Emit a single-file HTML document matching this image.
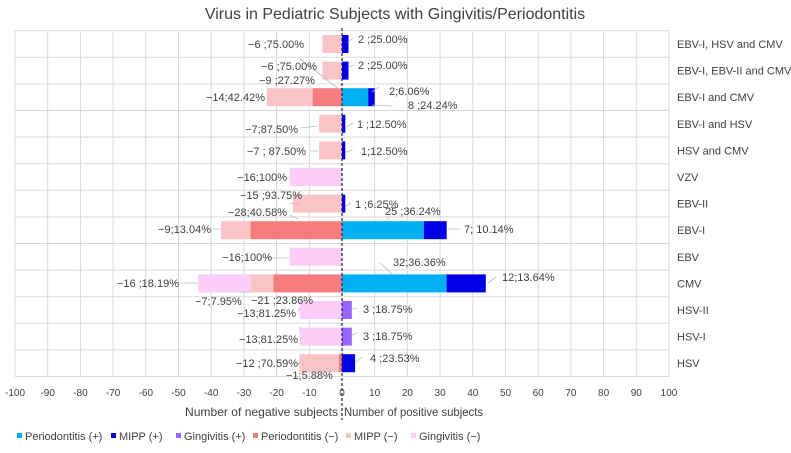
<!DOCTYPE html>
<html><head><meta charset="utf-8"><style>
body{margin:0;background:#fff}
svg text{font-family:"Liberation Sans",sans-serif;fill:#404040}
</style></head><body>
<svg width="791" height="448" xmlns="http://www.w3.org/2000/svg">
<rect width="791" height="448" fill="#fff"/>
<text x="395" y="19" font-size="16" text-anchor="middle" fill="#333">Virus in Pediatric Subjects with Gingivitis/Periodontitis</text>
<g stroke="#d9d9d9" stroke-width="1">
<line x1="15" y1="30.7" x2="669" y2="30.7"/><line x1="15" y1="57.3" x2="669" y2="57.3"/><line x1="15" y1="83.9" x2="669" y2="83.9"/><line x1="15" y1="110.5" x2="669" y2="110.5"/><line x1="15" y1="137.1" x2="669" y2="137.1"/><line x1="15" y1="163.7" x2="669" y2="163.7"/><line x1="15" y1="190.3" x2="669" y2="190.3"/><line x1="15" y1="216.9" x2="669" y2="216.9"/><line x1="15" y1="243.5" x2="669" y2="243.5"/><line x1="15" y1="270.1" x2="669" y2="270.1"/><line x1="15" y1="296.7" x2="669" y2="296.7"/><line x1="15" y1="323.3" x2="669" y2="323.3"/><line x1="15" y1="349.9" x2="669" y2="349.9"/><line x1="15" y1="376.5" x2="669" y2="376.5"/>
<line x1="15" y1="30.7" x2="15" y2="376.5"/><line x1="47.7" y1="30.7" x2="47.7" y2="376.5"/><line x1="80.4" y1="30.7" x2="80.4" y2="376.5"/><line x1="113.1" y1="30.7" x2="113.1" y2="376.5"/><line x1="145.8" y1="30.7" x2="145.8" y2="376.5"/><line x1="178.5" y1="30.7" x2="178.5" y2="376.5"/><line x1="211.2" y1="30.7" x2="211.2" y2="376.5"/><line x1="243.9" y1="30.7" x2="243.9" y2="376.5"/><line x1="276.6" y1="30.7" x2="276.6" y2="376.5"/><line x1="309.3" y1="30.7" x2="309.3" y2="376.5"/><line x1="374.7" y1="30.7" x2="374.7" y2="376.5"/><line x1="407.4" y1="30.7" x2="407.4" y2="376.5"/><line x1="440.1" y1="30.7" x2="440.1" y2="376.5"/><line x1="472.8" y1="30.7" x2="472.8" y2="376.5"/><line x1="505.5" y1="30.7" x2="505.5" y2="376.5"/><line x1="538.2" y1="30.7" x2="538.2" y2="376.5"/><line x1="570.9" y1="30.7" x2="570.9" y2="376.5"/><line x1="603.6" y1="30.7" x2="603.6" y2="376.5"/><line x1="636.3" y1="30.7" x2="636.3" y2="376.5"/><line x1="669" y1="30.7" x2="669" y2="376.5"/>
</g>
<g>
<rect x="322.4" y="35" width="19.6" height="18" fill="#fbc4c4"/><rect x="342" y="35" width="6.5" height="18" fill="#0000e6"/>
<rect x="322.4" y="61.6" width="19.6" height="18" fill="#fbc4c4"/><rect x="342" y="61.6" width="6.5" height="18" fill="#0000e6"/>
<rect x="312.6" y="88.2" width="29.4" height="18" fill="#f47c7c"/><rect x="266.8" y="88.2" width="45.8" height="18" fill="#fbc4c4"/><rect x="342" y="88.2" width="26.2" height="18" fill="#00b0f0"/><rect x="368.2" y="88.2" width="6.5" height="18" fill="#0000e6"/>
<rect x="319.1" y="114.8" width="22.9" height="18" fill="#fbc4c4"/><rect x="342" y="114.8" width="3.3" height="18" fill="#0000e6"/>
<rect x="319.1" y="141.4" width="22.9" height="18" fill="#fbc4c4"/><rect x="342" y="141.4" width="3.3" height="18" fill="#0000e6"/>
<rect x="289.7" y="168" width="52.3" height="18" fill="#fbcdf8"/>
<rect x="292.9" y="194.6" width="49.1" height="18" fill="#fbc4c4"/><rect x="342" y="194.6" width="3.3" height="18" fill="#0000e6"/>
<rect x="250.4" y="221.2" width="91.6" height="18" fill="#f47c7c"/><rect x="221" y="221.2" width="29.4" height="18" fill="#fbc4c4"/><rect x="342" y="221.2" width="81.8" height="18" fill="#00b0f0"/><rect x="423.8" y="221.2" width="22.9" height="18" fill="#0000e6"/>
<rect x="289.7" y="247.8" width="52.3" height="18" fill="#fbcdf8"/>
<rect x="273.3" y="274.4" width="68.7" height="18" fill="#f47c7c"/><rect x="250.4" y="274.4" width="22.9" height="18" fill="#fbc4c4"/><rect x="198.1" y="274.4" width="52.3" height="18" fill="#fbcdf8"/><rect x="342" y="274.4" width="104.6" height="18" fill="#00b0f0"/><rect x="446.6" y="274.4" width="39.2" height="18" fill="#0000e6"/>
<rect x="299.5" y="301" width="42.5" height="18" fill="#fbcdf8"/><rect x="342" y="301" width="9.8" height="18" fill="#9966ff"/>
<rect x="299.5" y="327.6" width="42.5" height="18" fill="#fbcdf8"/><rect x="342" y="327.6" width="9.8" height="18" fill="#9966ff"/>
<rect x="338.7" y="354.2" width="3.3" height="18" fill="#f47c7c"/><rect x="299.5" y="354.2" width="39.2" height="18" fill="#fbc4c4"/><rect x="342" y="354.2" width="13.1" height="18" fill="#0000e6"/>
</g>
<line x1="342" y1="28" x2="342" y2="420" stroke="#1a1a6e" stroke-width="1.2" stroke-dasharray="3,2"/>
<g stroke="#bfbfbf" stroke-width="0.8" fill="none">
<polyline points="348,42 353,38"/><polyline points="348,68 353,65"/>
<polyline points="300,59 340,90"/><polyline points="372,92 379,87"/><polyline points="372,105 392,106"/>
<polyline points="300,128 318,126"/><polyline points="346,127 353,123"/><polyline points="310,151 318,151"/><polyline points="346,152 353,150"/>
<polyline points="286,178 289,178"/><polyline points="290,203 300,205"/><polyline points="346,206 351,203"/>
<polyline points="290,215 298,219"/><polyline points="386,217 390,219"/><polyline points="212,229 220,229"/><polyline points="448,229 460,229"/>
<polyline points="265,258 289,258"/><polyline points="380,263 392,274"/><polyline points="180,283 198,283"/><polyline points="488,283 496,277"/>
<polyline points="250,292 240,292"/><polyline points="300,301 305,301"/><polyline points="300,308 298,311"/><polyline points="352,309 357,308"/><polyline points="300,327 300,330"/><polyline points="352,335 357,333"/><polyline points="300,362 298,365"/><polyline points="356,362 362,357"/>
</g>
<g font-size="11">
<text x="304" y="48" text-anchor="end">−6 ;75.00%</text><text x="358" y="43">2 ;25.00%</text>
<text x="317" y="70" text-anchor="end">−6 ;75.00%</text><text x="358" y="69">2 ;25.00%</text>
<text x="259" y="84">−9 ;27.27%</text>
<text x="265" y="101" text-anchor="end">−14;42.42%</text><text x="389" y="95">2;6.06%</text><text x="408" y="109">8 ;24.24%</text>
<text x="298" y="133" text-anchor="end">−7;87.50%</text><text x="357" y="128">1 ;12.50%</text>
<text x="306" y="155" text-anchor="end">−7 ; 87.50%</text><text x="361" y="155">1;12.50%</text>
<text x="287" y="181" text-anchor="end">−16;100%</text>
<text x="240" y="199">−15 ;93.75%</text><text x="355" y="208">1 ;6.25%</text>
<text x="228" y="216">−28;40.58%</text><text x="385" y="215">25 ;36.24%</text>
<text x="211" y="233" text-anchor="end">−9;13.04%</text><text x="464" y="233">7; 10.14%</text>
<text x="272" y="261" text-anchor="end">−16;100%</text><text x="393" y="266">32;36.36%</text>
<text x="179" y="287" text-anchor="end">−16 ;18.19%</text><text x="502" y="281">12;13.64%</text>
<text x="195" y="305">−7;7.95%</text><text x="251" y="304">−21 ;23.86%</text>
<text x="296" y="317" text-anchor="end">−13;81.25%</text><text x="363" y="313">3 ;18.75%</text>
<text x="298" y="343" text-anchor="end">−13;81.25%</text><text x="363" y="340">3 ;18.75%</text>
<text x="298" y="367" text-anchor="end">−12 ;70.59%</text><text x="370" y="362">4 ;23.53%</text>
<text x="286" y="379">−1;5.88%</text>
</g>
<g font-size="11" fill="#333">
<text x="677" y="48">EBV-I, HSV and CMV</text><text x="677" y="74.6">EBV-I, EBV-II and CMV</text><text x="677" y="101.2">EBV-I and CMV</text><text x="677" y="127.8">EBV-I and HSV</text><text x="677" y="154.4">HSV and CMV</text><text x="677" y="181">VZV</text><text x="677" y="207.6">EBV-II</text><text x="677" y="234.2">EBV-I</text><text x="677" y="260.8">EBV</text><text x="677" y="287.4">CMV</text><text x="677" y="314">HSV-II</text><text x="677" y="340.6">HSV-I</text><text x="677" y="367.2">HSV</text>
</g>
<g font-size="10" fill="#595959" text-anchor="middle">
<text x="15" y="396">-100</text><text x="47.7" y="396">-90</text><text x="80.4" y="396">-80</text><text x="113.1" y="396">-70</text><text x="145.8" y="396">-60</text><text x="178.5" y="396">-50</text><text x="211.2" y="396">-40</text><text x="243.9" y="396">-30</text><text x="276.6" y="396">-20</text><text x="309.3" y="396">-10</text><text x="342" y="396">0</text><text x="374.7" y="396">10</text><text x="407.4" y="396">20</text><text x="440.1" y="396">30</text><text x="472.8" y="396">40</text><text x="505.5" y="396">50</text><text x="538.2" y="396">60</text><text x="570.9" y="396">70</text><text x="603.6" y="396">80</text><text x="636.3" y="396">90</text><text x="669" y="396">100</text>
</g>
<g font-size="12" fill="#333">
<text x="338" y="416" text-anchor="end" textLength="153" lengthAdjust="spacingAndGlyphs">Number of negative subjects</text>
<text x="344" y="416" textLength="139" lengthAdjust="spacingAndGlyphs">Number of positive subjects</text>
</g>
<g font-size="11" fill="#333">
<rect x="17" y="433" width="5" height="5" fill="#00b0f0"/><text x="25" y="440">Periodontitis (+)</text>
<rect x="111" y="433" width="5" height="5" fill="#0000e6"/><text x="119" y="440">MIPP (+)</text>
<rect x="176" y="433" width="5" height="5" fill="#9966ff"/><text x="184" y="440">Gingivitis (+)</text>
<rect x="253" y="433" width="5" height="5" fill="#f47c7c"/><text x="261" y="440">Periodontitis (−)</text>
<rect x="346" y="433" width="5" height="5" fill="#fbc4c4"/><text x="354" y="440">MIPP (−)</text>
<rect x="411" y="433" width="5" height="5" fill="#fbcdf8"/><text x="419" y="440">Gingivitis (−)</text>
</g>
</svg>
</body></html>
